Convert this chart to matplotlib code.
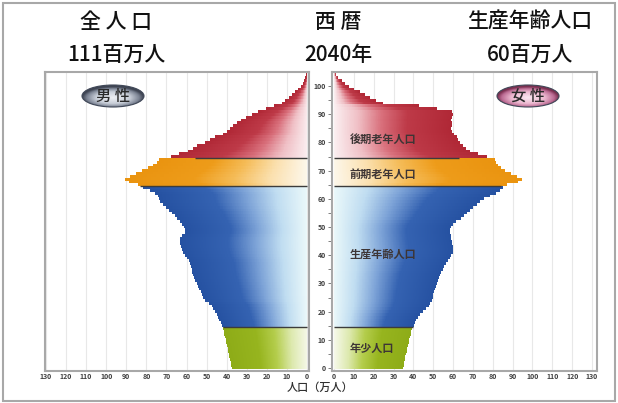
import numpy as np
import matplotlib.pyplot as plt
from matplotlib.colors import LinearSegmentedColormap
from matplotlib.patches import PathPatch, Ellipse, Rectangle
from matplotlib.path import Path

plt.rcParams['font.family'] = ['Noto Sans CJK JP', 'DejaVu Sans']

# 2040年 人口ピラミッド (万人), 年齢 0..105
male = [37.5, 37.8, 38.0, 38.3, 38.6, 38.9, 39.2, 39.5, 39.9, 40.2,
        40.5, 40.8, 41.2, 41.5, 41.9, 42.5, 43.0, 43.6, 44.3, 45.0,
        45.8, 46.6, 47.5, 49.0, 50.8, 51.8, 52.4, 53.0, 53.6, 54.2,
        54.9, 55.6, 56.2, 56.7, 57.2, 57.5, 57.8, 58.2, 59.0, 60.0,
        61.0, 61.8, 62.4, 63.0, 63.2, 63.3, 63.1, 62.2, 61.0, 60.8,
        61.4, 62.3, 63.4, 64.6, 65.8, 67.2, 68.8, 70.4, 71.8, 73.0,
        73.6, 74.0, 75.5, 78.0, 81.5, 84.0, 88.5, 90.5, 88.0, 85.2,
        82.3, 79.2, 76.5, 74.8, 73.8, 67.8, 64.0, 59.5, 57.0, 55.0,
        51.0, 48.5, 46.0, 42.0, 40.0, 38.5, 37.0, 35.0, 33.0, 30.5,
        27.5, 24.5, 20.5, 16.5, 12.5, 11.0, 9.0, 7.5, 6.0, 4.5,
        3.2, 2.2, 1.4, 0.8, 0.4, 0.2]
female = [35.0, 35.2, 35.5, 35.7, 36.0, 36.3, 36.6, 36.9, 37.2, 37.6,
          37.9, 38.2, 38.6, 39.0, 39.5, 40.2, 40.8, 41.4, 42.2, 43.4,
          45.0, 46.5, 47.8, 48.6, 49.2, 49.7, 50.0, 50.4, 50.9, 51.3,
          51.7, 52.2, 52.7, 53.2, 54.0, 54.8, 55.6, 56.5, 57.4, 58.3,
          59.2, 59.8, 60.2, 60.0, 59.6, 59.3, 59.0, 58.7, 58.4, 58.5,
          59.0, 59.9, 61.5, 63.8, 65.6, 67.0, 68.5, 70.0, 71.8, 73.5,
          75.5, 78.5, 81.5, 83.5, 85.3, 87.0, 92.5, 94.6, 92.0, 89.0,
          86.3, 84.0, 82.5, 81.6, 81.0, 77.0, 72.5, 68.5, 66.5, 65.0,
          63.5, 62.5, 61.8, 60.5, 59.5, 59.0, 59.3, 59.5, 59.0, 59.5,
          60.0, 59.5, 52.0, 43.0, 24.5, 21.0, 18.0, 15.5, 13.0, 10.0,
          7.5, 5.5, 3.8, 2.2, 1.0, 0.3]

groups = [(0, 14), (15, 64), (65, 74), (75, 105)]
group_names = ['年少人口', '生産年齢人口', '前期老年人口', '後期老年人口']
group_label_age = [7, 40.5, 68.7, 81]
group_colors = [
    ['#f6f9ea', '#dde9ae', '#b4cd4c', '#97b51f', '#8eac18'],
    ['#eaf8fa', '#c0ddf1', '#7ea4d8', '#3563b2', '#2652a2'],
    ['#fdf7ea', '#fbe0ae', '#f5bc58', '#ee9c1a', '#ea9410'],
    ['#fbeff1', '#f0c0c6', '#d9707c', '#be3a48', '#b02836'],
]
stops = [0.0, 0.2, 0.4, 0.62, 1.0]

sep_ages = [14.5, 64.5, 74.5]
sep_male = [42, 83, 56]
sep_female = [40, 84, 63]

titles_top = ['全 人 口', '西 暦', '生産年齢人口']
titles_bottom = ['111百万人', '2040年', '60百万人']
title_x = [116, 338, 530]


def draw_side(ax, vals, seps):
    ax.grid(axis='x', color='#e8e8e8', lw=0.8)
    ax.set_axisbelow(True)
    for (a0, a1), cols in zip(groups, group_colors):
        cm = LinearSegmentedColormap.from_list('g', list(zip(stops, cols)))
        v = np.array(vals[a0:a1 + 1])
        gmax = v.max()
        xs = np.linspace(0, gmax, 400)
        t = np.clip(xs[None, :] / v[:, None], 0, 1)
        im = ax.imshow(cm(t), extent=(0, gmax, a0 - 0.5, a1 + 0.5), origin='lower',
                       aspect='auto', interpolation='nearest', zorder=2)
        verts = [(0, a0 - 0.5)]
        for a, x in zip(range(a0, a1 + 1), v):
            verts += [(x, a - 0.5), (x, a + 0.5)]
        verts += [(0, a1 + 0.5), (0, a0 - 0.5)]
        patch = PathPatch(Path(verts), facecolor='none', edgecolor='none')
        ax.add_patch(patch)
        im.set_clip_path(patch)
    ax.hlines(sep_ages, 0, seps, color='#3c3c3c', lw=1.0, zorder=3)
    ax.set_ylim(-1.06, 105)
    ax.set_xticks(range(0, 131, 10))
    ax.set_xticklabels([str(x) for x in range(0, 131, 10)], fontweight='bold')
    ax.tick_params(axis='x', length=0, pad=1.5, labelsize=5, labelcolor='#404040')
    for s in ax.spines.values():
        s.set_color('#a8a8a8')
        s.set_linewidth(1.5)


fig = plt.figure(figsize=(6.18, 4.03), dpi=100)
axL = fig.add_axes([45 / 618, 1 - 371 / 403, 264 / 618, 299 / 403])
axR = fig.add_axes([332 / 618, 1 - 371 / 403, 265 / 618, 299 / 403])

draw_side(axL, male, sep_male)
axL.set_xlim(130.5, -1)
axL.set_yticks([])

draw_side(axR, female, sep_female)
axR.set_xlim(-1, 132.5)
axR.set_yticks(range(0, 101, 10))
axR.set_yticks(range(5, 101, 10), minor=True)
axR.set_yticklabels([str(y) for y in range(0, 101, 10)], fontweight='bold')
axR.tick_params(axis='y', which='both', length=3, width=0.7, color='#808080',
                labelsize=5, pad=1.5, labelcolor='#404040')

for name, age in zip(group_names, group_label_age):
    axR.text(8, age, name, fontsize=8, color='#3d3535', fontweight='bold',
             ha='left', va='center', zorder=4)

fig.text(320 / 618, 1 - 388 / 403, '人口（万人）', ha='center', va='center',
         fontsize=8, color='#303030', fontweight='medium')

# overlay in pixel coordinates
ov = fig.add_axes([0, 0, 1, 1])
ov.set_xlim(0, 618)
ov.set_ylim(403, 0)
ov.axis('off')

for x, t1, t2 in zip(title_x, titles_top, titles_bottom):
    ov.text(x, 22, t1, ha='center', va='center', fontsize=15, fontweight='medium', color='#111111')
    ov.text(x, 55, t2, ha='center', va='center', fontsize=15, fontweight='medium', color='#111111')

badges = [(113, '男 性', ['#eef0f4', '#c8ced8', '#7c8494', '#3e4452']),
          (528, '女 性', ['#fbe8f2', '#ecb8d0', '#bc6c94', '#7a3050'])]
for cx, label, cols in badges:
    cy, w, h = 96, 62, 22
    cm = LinearSegmentedColormap.from_list('b', list(zip([0, 0.55, 0.85, 1.0], cols)))
    X, Y = np.meshgrid(np.linspace(-1, 1, 120), np.linspace(-1, 1, 50))
    r = np.clip(np.sqrt(X ** 2 + (Y - 0.15) ** 2), 0, 1)
    im = ov.imshow(cm(r), extent=(cx - w / 2, cx + w / 2, cy + h / 2, cy - h / 2),
                   aspect='auto', interpolation='bilinear')
    e = Ellipse((cx, cy), w, h, facecolor='none', edgecolor='#404858', lw=0.8)
    ov.add_patch(e)
    im.set_clip_path(e)
    ov.text(cx, cy, label, ha='center', va='center', fontsize=11, color='#2a2a2a',
            fontweight='medium')

ov.add_patch(Rectangle((3, 3), 612, 398, fill=False, ec='#a8a8a8', lw=1.5))
ov.set_xlim(0, 618)
ov.set_ylim(403, 0)

fig.savefig('out.png', dpi=100)
